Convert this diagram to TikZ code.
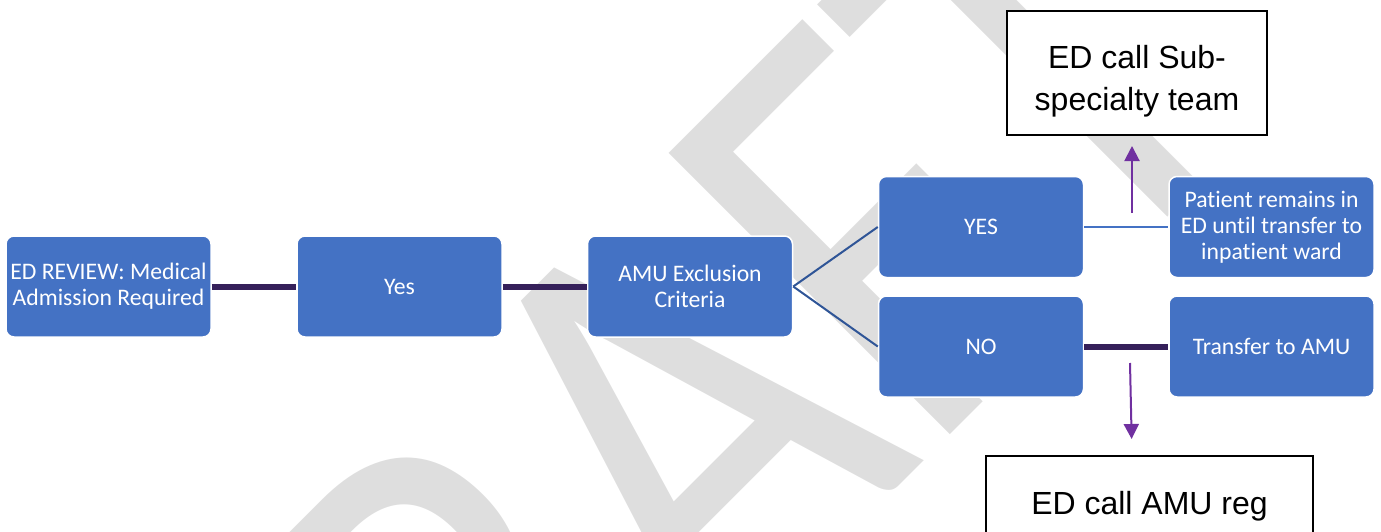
\documentclass[tikz,border=0pt]{standalone}
\usepackage{fontspec}
\setmainfont{Carlito}[Ligatures=CommonOff]
\newfontfamily\arialfont{Liberation Sans}
\usetikzlibrary{arrows.meta}

\definecolor{boxblue}{HTML}{4472C4}
\definecolor{linkpurple}{HTML}{35205A}
\definecolor{linkblue}{HTML}{2F5597}
\definecolor{arrowpurple}{HTML}{7030A0}
\definecolor{wmgray}{HTML}{DEDEDE}

\begin{document}
\begin{tikzpicture}[x=1pt, y=-1pt,
  stage/.style={draw=white, line width=1.5pt, fill=boxblue, rounded corners=8pt,
    minimum width=205pt, minimum height=101pt, inner sep=2pt, align=center,
    text=white, font=\fontsize{23.7}{26}\selectfont},
  callbox/.style={draw=black, line width=2pt, fill=white, align=center,
    font=\arialfont\fontsize{32}{42}\selectfont},
  thicklink/.style={draw=linkpurple, line width=6pt},
  thinlink/.style={draw=linkblue, line width=2pt},
  sidelink/.style={draw=boxblue, line width=2pt},
  callarrow/.style={draw=arrowpurple, line width=2pt, -{Triangle[width=15pt,length=15pt]}},
  wmtext/.style={text=wmgray, font=\fontsize{620}{620}\selectfont, rotate=45,
    xscale=0.84, anchor=base west, inner sep=0pt}
]
\useasboundingbox (0,0) rectangle (1381,532);
\begin{scope}
\clip (0,0) rectangle (1381,532);

% watermark
\node[wmtext] (draft) at (286,1099) {DRAFT};

% pathway boxes
\node[stage] (ed)   at (108.5,286.5) {ED REVIEW: Medical\\Admission Required};
\node[stage] (yes)  at (399.5,286.5) {Yes};
\node[stage] (amu)  at (690,286.5)   {AMU Exclusion\\Criteria};
\node[stage] (yesb) at (981,227)     {YES};
\node[stage] (nob)  at (981,346.5)   {NO};
\node[stage] (pat)  at (1271.5,227)  {Patient remains in\\ED until transfer to\\inpatient ward};
\node[stage] (tamu) at (1271.5,346.5) {Transfer to AMU};

% call boxes
\node[callbox, minimum width=260pt, minimum height=124pt] (sub) at (1137,73)
  {\rule{0pt}{40pt}ED call Sub-\\specialty team};
\node[callbox, minimum width=327pt, minimum height=100pt] (amureg) at (1149.5,506)
  {ED call AMU reg};

% connectors
\draw[thicklink] (ed.east) -- (yes.west);
\draw[thicklink] (yes.east) -- (amu.west);
\draw[thinlink] (amu.east) -- (yesb.west);
\draw[thinlink] (amu.east) -- (nob.west);
\draw[sidelink] (yesb.east) -- (pat.west);
\draw[thicklink] (nob.east) -- (tamu.west);

% calls
\coordinate (upfoot) at (1132,213);
\coordinate (downfoot) at (1130,363);
\draw[callarrow, shorten >=10pt] (upfoot) -- (upfoot |- sub.south);
\draw[callarrow, shorten >=16pt] (downfoot) -- ([xshift=-17.5pt]amureg.north);
\end{scope}
\end{tikzpicture}
\end{document}
